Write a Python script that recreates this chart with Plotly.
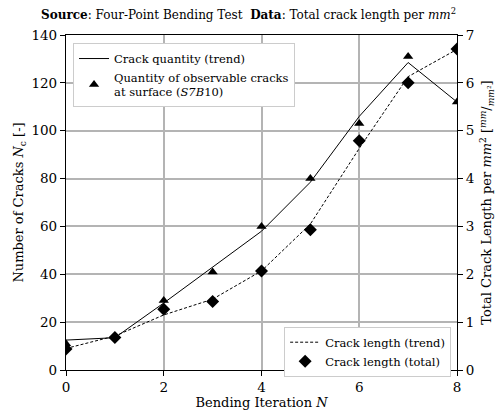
import plotly.graph_objects as go

iterations = [0, 1, 2, 3, 4, 5, 6, 7, 8]
crack_quantity = [11, 14, 29, 41, 60, 80, 103, 131, 112]
crack_quantity_trend = [12.5, 13.5, 28, 43, 58, 78.5, 106, 128.5, 112]
crack_length = [0.44, 0.68, 1.27, 1.43, 2.07, 2.93, 4.79, 6.0, 6.71]
crack_length_trend = [0.45, 0.71, 1.15, 1.48, 2.07, 3.05, 4.63, 6.13, 6.7]

FONT = "DejaVu Serif"

fig = go.Figure()
fig.add_trace(go.Scatter(x=iterations, y=crack_quantity_trend, mode="lines",
                         line=dict(color="black", width=1),
                         name="Crack quantity (trend)", legend="legend"))
fig.add_trace(go.Scatter(x=iterations, y=crack_quantity, mode="markers",
                         marker=dict(symbol="triangle-up", color="black", size=9),
                         name="Quantity of observable cracks<br>at surface (<i>S7B</i>10)",
                         legend="legend"))
fig.add_trace(go.Scatter(x=iterations, y=crack_length_trend, mode="lines",
                         line=dict(color="black", width=1, dash="3px,2px"),
                         name="Crack length (trend)", yaxis="y2", legend="legend2"))
fig.add_trace(go.Scatter(x=iterations, y=crack_length, mode="markers",
                         marker=dict(symbol="diamond", color="black", size=10),
                         name="Crack length (total)", yaxis="y2", legend="legend2"))

axis_common = dict(showline=True, linecolor="black", linewidth=1.2,
                   ticks="outside", ticklen=5, tickcolor="black",
                   tickfont=dict(family=FONT, size=13.5, color="black"),
                   zeroline=False, automargin=False)

fig.update_layout(
    width=497, height=410,
    margin=dict(l=66, r=40, t=35, b=40, autoexpand=False),
    paper_bgcolor="white", plot_bgcolor="white",
    font=dict(family=FONT, color="black"),
    title=dict(text="<b>Source</b>: Four-Point Bending Test  <b>Data</b>: Total crack length per <i>mm</i><sup>2</sup>",
               x=0.5, xref="container", xanchor="center",
               y=0.965, yref="container", yanchor="middle",
               font=dict(family=FONT, size=12, color="black")),
    xaxis=dict(range=[0, 8], tickvals=[0, 2, 4, 6, 8], mirror=True,
               showgrid=True, gridcolor="#b4b4b4", gridwidth=1.5,
               title=dict(text="Bending Iteration <i>N</i>", standoff=0,
                          font=dict(family=FONT, size=13)),
               **axis_common),
    yaxis=dict(range=[0, 140], tickvals=list(range(0, 141, 20)), mirror=True,
               showgrid=True, gridcolor="#b4b4b4", gridwidth=1.5,
               title=dict(text="Number of Cracks <i>N</i><sub>c</sub> [-]", standoff=4,
                          font=dict(family=FONT, size=13)),
               **axis_common),
    yaxis2=dict(range=[0, 7], tickvals=list(range(0, 8)), overlaying="y", side="right",
                showgrid=False,
                title=dict(text="Total Crack Length per <i>mm</i><sup>2</sup> [<sup><i>mm</i></sup>/<sub><i>mm</i>²</sub>]",
                           standoff=8, font=dict(family=FONT, size=13)),
                **axis_common),
    legend=dict(x=0.018, y=0.976, xanchor="left", yanchor="top",
                bgcolor="white", bordercolor="#cccccc", borderwidth=1,
                font=dict(family=FONT, size=11.5), tracegroupgap=0, itemwidth=30),
    legend2=dict(x=0.985, y=-0.02, xanchor="right", yanchor="bottom",
                 bgcolor="white", bordercolor="#cccccc", borderwidth=1,
                 font=dict(family=FONT, size=11.5), itemwidth=30),
    showlegend=True,
)

fig.write_html("out.html")
